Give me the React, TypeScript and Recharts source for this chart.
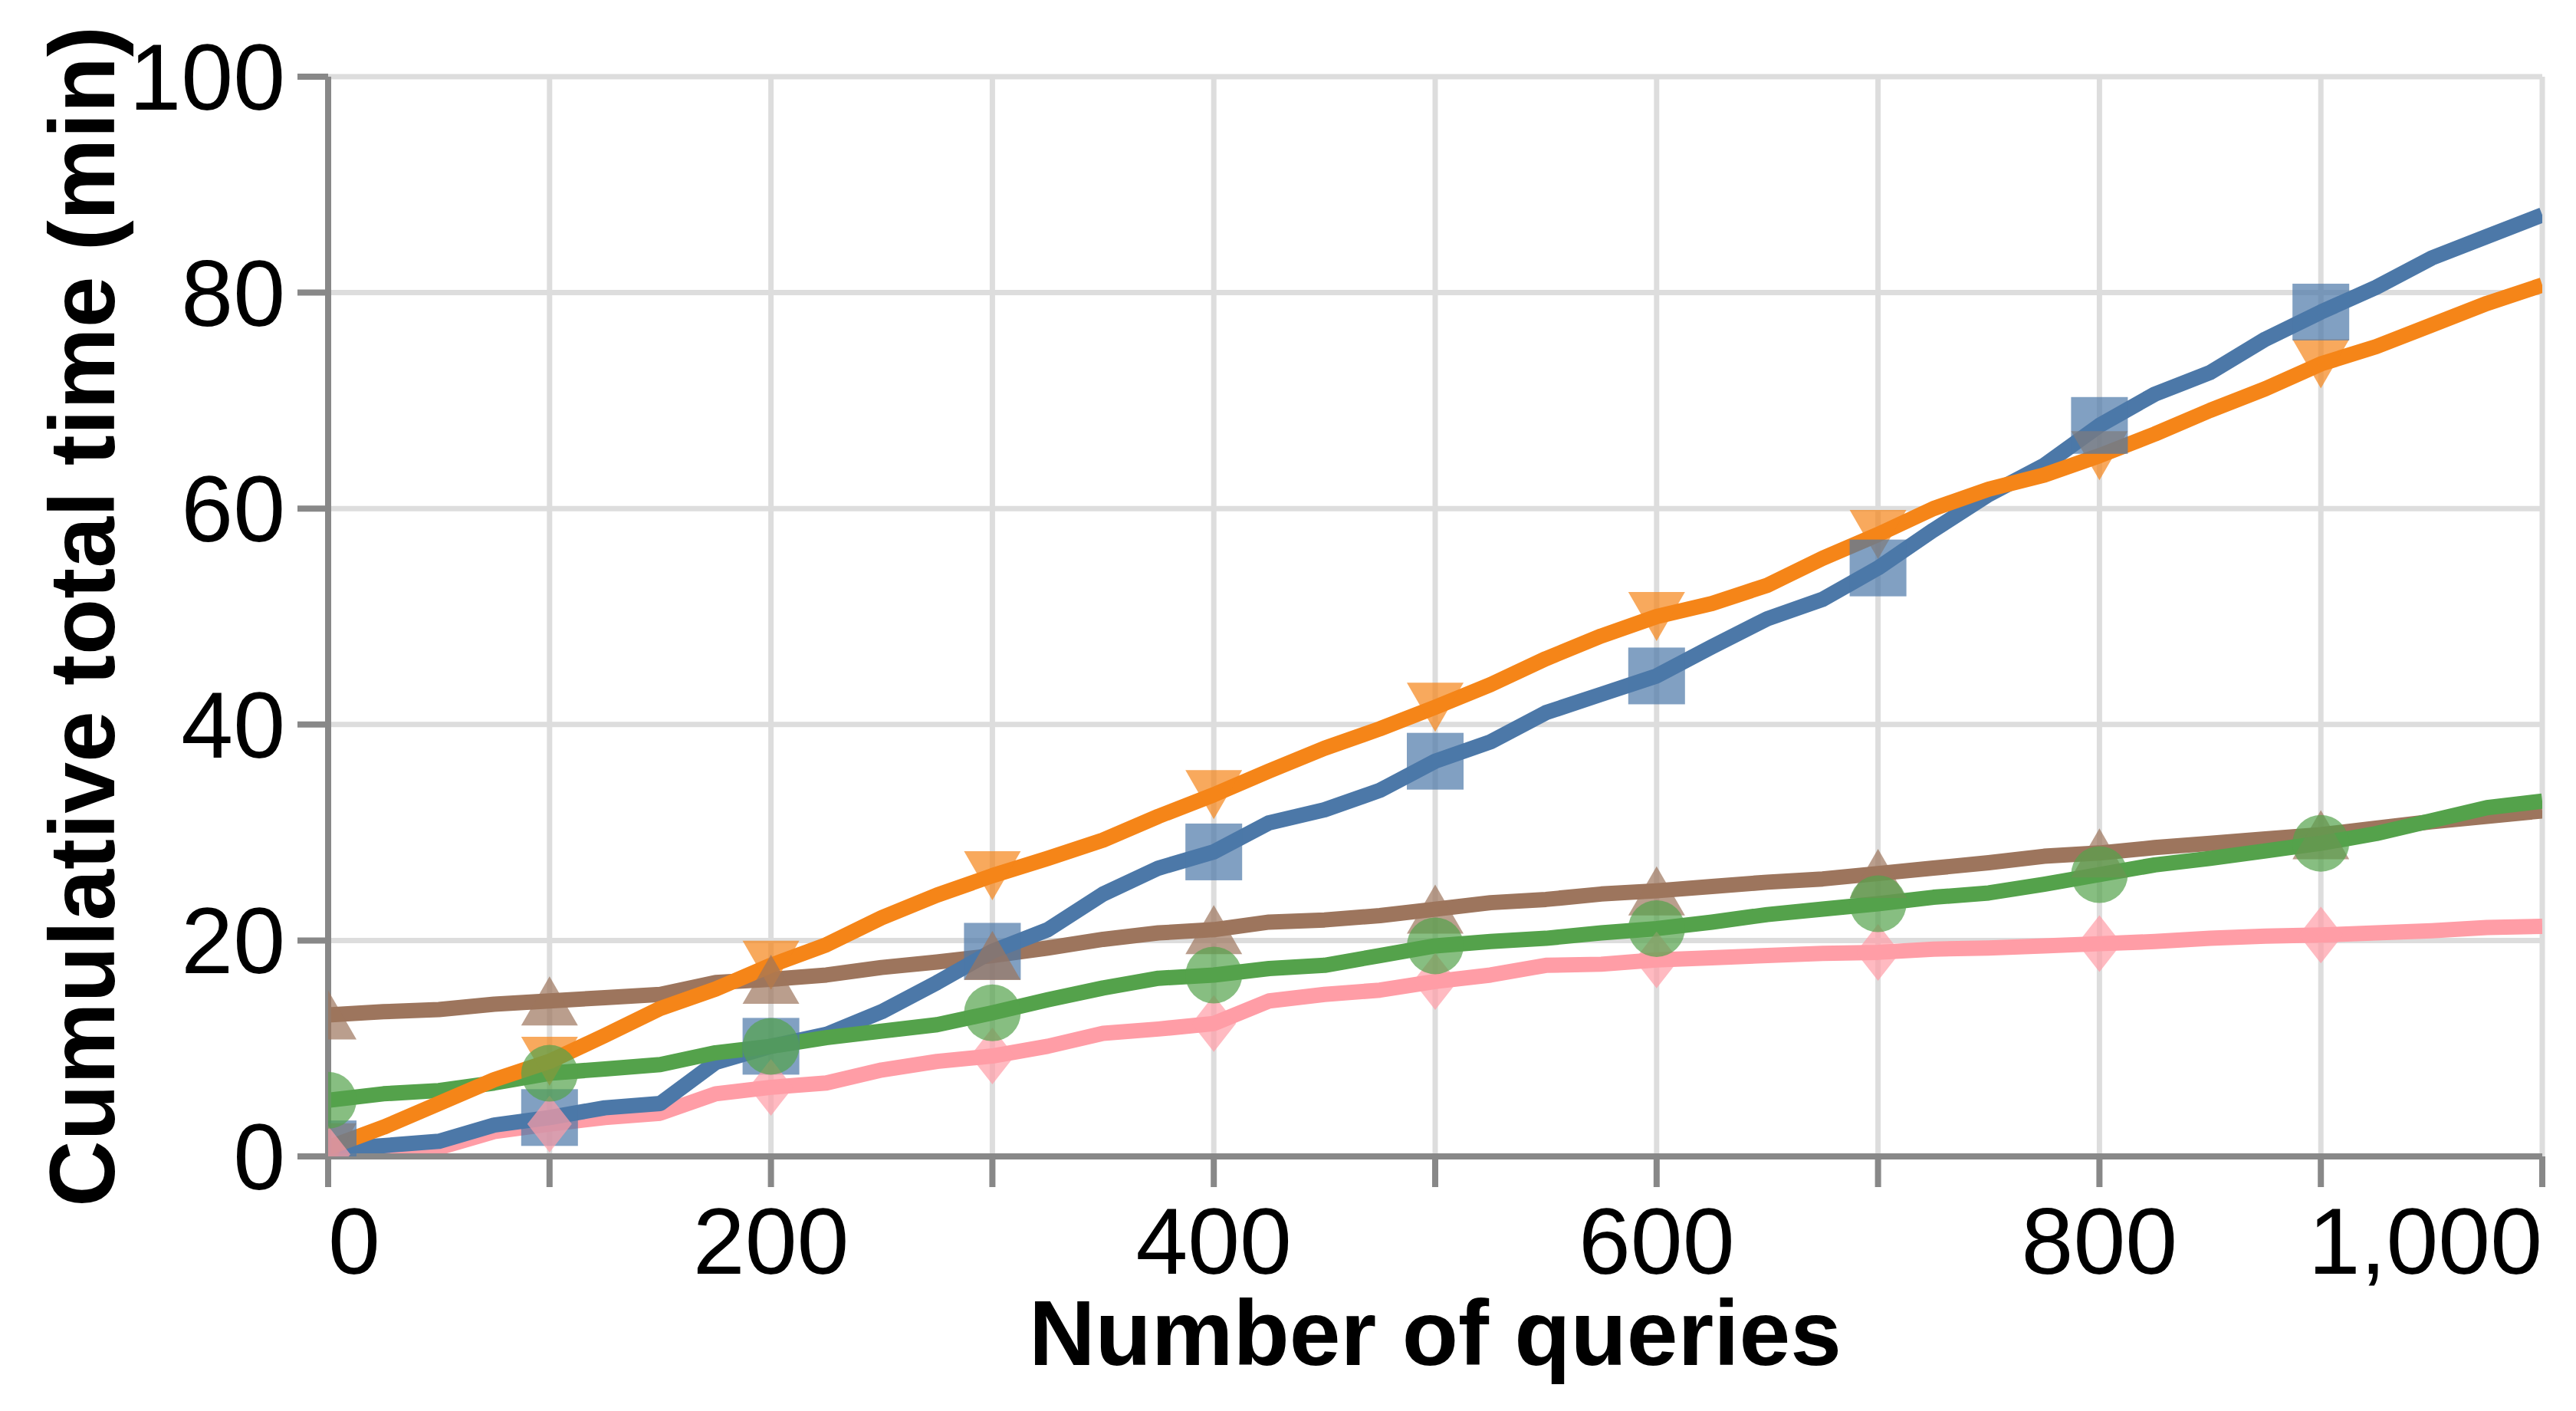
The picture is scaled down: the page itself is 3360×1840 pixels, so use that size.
import React from 'react';
import { ComposedChart, Line, XAxis, YAxis, CartesianGrid } from 'recharts';

const queries = [
  0, 25, 50, 75, 100, 125, 150, 175, 200, 225, 250, 275, 300, 325, 350, 375, 400, 425, 450, 475, 500,
  525, 550, 575, 600, 625, 650, 675, 700, 725, 750, 775, 800, 825, 850, 875, 900, 925, 950, 975, 1000,
];

// Cumulative total time (min), one array per series
const blueTimes = [
  0.7, 1.0, 1.4, 2.9, 3.6, 4.5, 4.9, 8.7, 10.2, 11.3, 13.4, 16.1, 19.0, 21.0, 24.3, 26.7, 28.2, 30.9, 32.1, 33.9, 36.6,
  38.4, 41.1, 42.8, 44.5, 47.2, 49.8, 51.6, 54.5, 58.0, 61.3, 64.0, 67.7, 70.6, 72.6, 75.7, 78.2, 80.5, 83.2, 85.2, 87.2,
];
const orangeTimes = [
  0.8, 2.7, 4.9, 7.1, 8.8, 11.2, 13.7, 15.5, 17.7, 19.6, 22.1, 24.2, 26.0, 27.6, 29.3, 31.5, 33.5, 35.7, 37.8, 39.6, 41.6,
  43.7, 46.1, 48.2, 50.0, 51.2, 52.9, 55.4, 57.6, 60.0, 61.8, 63.1, 64.9, 66.9, 69.1, 71.1, 73.4, 75.0, 77.0, 79.0, 80.7,
];
const greenTimes = [
  5.2, 5.8, 6.1, 6.8, 7.7, 8.1, 8.5, 9.6, 10.2, 11.0, 11.6, 12.2, 13.3, 14.5, 15.6, 16.5, 16.8, 17.4, 17.7, 18.6, 19.5,
  19.9, 20.2, 20.7, 21.1, 21.7, 22.4, 22.9, 23.4, 24.0, 24.4, 25.2, 26.1, 27.0, 27.6, 28.3, 29.0, 29.9, 31.1, 32.3, 32.9,
];
const pinkTimes = [
  0.2, 0.5, 0.8, 2.3, 3.0, 3.6, 4.0, 5.8, 6.4, 6.8, 8.0, 8.8, 9.3, 10.2, 11.4, 11.8, 12.3, 14.4, 15.0, 15.4, 16.2,
  16.8, 17.7, 17.8, 18.2, 18.4, 18.6, 18.8, 18.9, 19.2, 19.3, 19.5, 19.7, 19.9, 20.2, 20.4, 20.5, 20.7, 20.9, 21.2, 21.3,
];
const brownTimes = [
  13.1, 13.4, 13.6, 14.1, 14.4, 14.7, 15.0, 16.1, 16.4, 16.8, 17.5, 18.0, 18.6, 19.3, 20.1, 20.7, 21.0, 21.7, 21.9, 22.3, 22.9,
  23.5, 23.8, 24.3, 24.6, 25.0, 25.4, 25.7, 26.2, 26.7, 27.2, 27.8, 28.1, 28.6, 29.0, 29.4, 29.8, 30.4, 31.0, 31.5, 32.0,
];

// Queries that carry a point marker
const markerQueries = [0, 100, 200, 300, 400, 500, 600, 700, 800, 900];

const xTicks = [0, 100, 200, 300, 400, 500, 600, 700, 800, 900, 1000];
const xLabelTicks = [0, 200, 400, 600, 800, 1000];
const yTicks = [0, 20, 40, 60, 80, 100];

const FONT = '"Liberation Sans", Arial, Helvetica, sans-serif';
const AXIS_GRAY = '#888';

type Shape = 'square' | 'triangle-down' | 'circle' | 'diamond' | 'triangle-up';

const SERIES: { key: string; values: number[]; color: string; shape: Shape }[] = [
  { key: 'pink', values: pinkTimes, color: '#ff9da6', shape: 'diamond' },
  { key: 'brown', values: brownTimes, color: '#9d755d', shape: 'triangle-up' },
  { key: 'blue', values: blueTimes, color: '#4c78a8', shape: 'square' },
  { key: 'green', values: greenTimes, color: '#54a24b', shape: 'circle' },
  { key: 'orange', values: orangeTimes, color: '#f58518', shape: 'triangle-down' },
];

// markers are drawn after every line
const MARKER_ORDER = ['orange', 'blue', 'pink', 'brown', 'green'];

const chartData = queries.map((q, i) => {
  const row: Record<string, number> = { q };
  SERIES.forEach((s) => {
    row[s.key] = s.values[i];
  });
  return row;
});

const markerDot = (shape: Shape, color: string) => (props: any) => {
  const { cx, cy, payload, index } = props;
  const k = `m-${shape}-${index}`;
  if (!payload || !markerQueries.includes(payload.q) || cx == null || cy == null) return <g key={k} />;
  const common = { fill: color, fillOpacity: 0.7, stroke: 'none' };
  switch (shape) {
    case 'square':
      return <rect key={k} x={cx - 37} y={cy - 37} width={74} height={74} {...common} />;
    case 'circle':
      return <circle key={k} cx={cx} cy={cy} r={37} {...common} />;
    case 'triangle-up':
      return <path key={k} d={`M${cx},${cy - 32}L${cx + 37},${cy + 32}L${cx - 37},${cy + 32}Z`} {...common} />;
    case 'triangle-down':
      return <path key={k} d={`M${cx},${cy + 32}L${cx + 37},${cy - 32}L${cx - 37},${cy - 32}Z`} {...common} />;
    case 'diamond':
    default:
      return (
        <path
          key={k}
          d={`M${cx},${cy - 37}L${cx + 29},${cy}L${cx},${cy + 37}L${cx - 29},${cy}Z`}
          {...common}
        />
      );
  }
};

const XTick = (props: any) => {
  const { x, y, payload } = props;
  const v = payload?.value;
  if (!xLabelTicks.includes(v)) return <g />;
  const anchor = v === 0 ? 'start' : v === 1000 ? 'end' : 'middle';
  return (
    <text x={x} y={y} dy={87} textAnchor={anchor} fontSize={122} fontFamily={FONT} fill="#000">
      {v.toLocaleString('en-US')}
    </text>
  );
};

const YTick = (props: any) => {
  const { x, y, payload } = props;
  return (
    <text x={x} y={y} dy={43} textAnchor="end" fontSize={122} fontFamily={FONT} fill="#000">
      {payload?.value}
    </text>
  );
};

// plot box: left 428, top 100, right 3316, bottom 1508
const XTitle = () => (
  <text x={1872} y={1780} textAnchor="middle" fontSize={120} fontWeight="bold" fontFamily={FONT} fill="#000">
    Number of queries
  </text>
);

const YTitle = () => (
  <text
    x={149}
    y={804}
    transform="rotate(-90, 149, 804)"
    textAnchor="middle"
    fontSize={120}
    fontWeight="bold"
    fontFamily={FONT}
    fill="#000"
  >
    Cumulative total time (min)
  </text>
);

export default function App() {
  return (
    <div style={{ width: 3360, height: 1840, background: '#fff' }}>
      <style>{'body { margin: 0; }'}</style>
      <ComposedChart
        width={3360}
        height={1840}
        data={chartData}
        margin={{ top: 100, right: 44, bottom: 0, left: 0 }}
      >
        <CartesianGrid stroke="#ddd" strokeWidth={7} />
        <XAxis
          dataKey="q"
          type="number"
          domain={[0, 1000]}
          ticks={xTicks}
          interval={0}
          allowDataOverflow
          height={332}
          tickSize={40}
          tickMargin={26}
          tick={<XTick />}
          axisLine={{ stroke: AXIS_GRAY, strokeWidth: 8 }}
          tickLine={{ stroke: AXIS_GRAY, strokeWidth: 8 }}
          label={<XTitle />}
        />
        <YAxis
          type="number"
          domain={[0, 100]}
          ticks={yTicks}
          interval={0}
          allowDataOverflow
          width={428}
          tickSize={40}
          tickMargin={16}
          tick={<YTick />}
          axisLine={{ stroke: AXIS_GRAY, strokeWidth: 8 }}
          tickLine={{ stroke: AXIS_GRAY, strokeWidth: 8 }}
          label={<YTitle />}
        />
        {SERIES.map((s) => (
          <Line
            key={`line-${s.key}`}
            type="linear"
            dataKey={s.key}
            stroke={s.color}
            strokeWidth={20}
            strokeLinejoin="round"
            dot={false}
            activeDot={false}
            isAnimationActive={false}
          />
        ))}
        {MARKER_ORDER.map((k) => {
          const s = SERIES.find((x) => x.key === k)!;
          return (
            <Line
              key={`marker-${s.key}`}
              type="linear"
              dataKey={s.key}
              stroke="none"
              strokeWidth={0}
              dot={markerDot(s.shape, s.color)}
              activeDot={false}
              isAnimationActive={false}
            />
          );
        })}
      </ComposedChart>
    </div>
  );
}
